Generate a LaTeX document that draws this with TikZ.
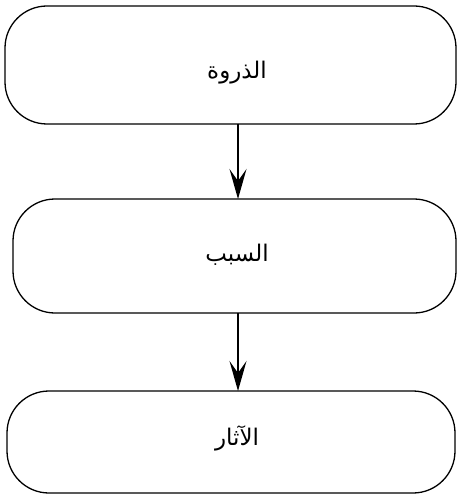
\documentclass[tikz,border=0pt]{standalone}
\usepackage{fontspec}
\newfontfamily\arabicfont[Script=Arabic]{DejaVu Sans}
\TeXXeTstate=1
\usetikzlibrary{arrows.meta}
\begin{document}
\begin{tikzpicture}[x=1bp,y=-1bp,
  stagebox/.style={draw=black, line width=1.3bp, rounded corners=42bp, fill=white},
  conn/.style={draw=black, line width=1.3bp, -{Stealth[length=30bp,width=17bp,inset=12bp]}},
  lbl/.style={font=\arabicfont\fontsize{23}{27}\selectfont, inner sep=0pt}]
\useasboundingbox (0,0) rectangle (459,499);
\fill[white] (0,0) rectangle (459,499);
\draw[stagebox] (5,6) rectangle (456,124);
\draw[stagebox] (13,199) rectangle (456,313);
\draw[stagebox] (7,391) rectangle (455,493);
\node[lbl] (a) at (237,73) {\beginR الذروة\endR};
\node[lbl] (b) at (237,255) {\beginR السبب\endR};
\node[lbl] (c) at (237,438) {\beginR الآثار\endR};
\coordinate (a1) at (238,124);
\coordinate (b0) at (238,199);
\coordinate (b1) at (238,313);
\coordinate (c0) at (238,391);
\draw[conn] (a1) -- (b0);
\draw[conn] (b1) -- (c0);
\end{tikzpicture}
\end{document}
